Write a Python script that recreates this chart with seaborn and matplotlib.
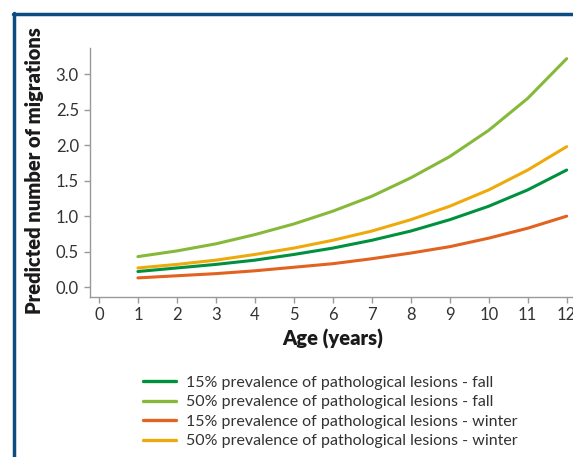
import numpy as np
import pandas as pd
import matplotlib.pyplot as plt
import seaborn as sns
from matplotlib.lines import Line2D

# values at each year of age
ages = [1, 2, 3, 4, 5, 6, 7, 8, 9, 10, 11, 12]
fall_15 = [0.22, 0.27, 0.32, 0.38, 0.46, 0.55, 0.66, 0.79, 0.95, 1.14, 1.37, 1.65]
fall_50 = [0.43, 0.51, 0.61, 0.74, 0.89, 1.07, 1.28, 1.54, 1.84, 2.21, 2.66, 3.22]
winter_15 = [0.13, 0.16, 0.19, 0.23, 0.28, 0.33, 0.40, 0.48, 0.57, 0.69, 0.83, 1.00]
winter_50 = [0.27, 0.32, 0.38, 0.46, 0.55, 0.66, 0.79, 0.95, 1.14, 1.37, 1.65, 1.98]

labels = ['15% prevalence of pathological lesions - fall',
          '50% prevalence of pathological lesions - fall',
          '15% prevalence of pathological lesions - winter',
          '50% prevalence of pathological lesions - winter']
colors = ['#00913f', '#86b93a', '#e2621f', '#eeaa0c']

df = pd.concat([
    pd.DataFrame({'age': ages, 'migrations': vals, 'group': lab})
    for vals, lab in zip([fall_15, fall_50, winter_15, winter_50], labels)
])

sns.set_style('white')
plt.rcParams['font.family'] = ['Lato', 'DejaVu Sans']

fig = plt.figure(figsize=(5.73, 4.57), dpi=100)
ax = fig.add_axes([0.157, 0.35, 0.866, 0.545])

sns.lineplot(data=df, x='age', y='migrations', hue='group', hue_order=labels,
             palette=colors, linewidth=2.2, legend=False, ax=ax)

ax.set_xlim(-0.23, 12.5)
ax.set_ylim(-0.14, 3.37)
ax.set_xticks(range(0, 13))
ax.set_yticks([0, 0.5, 1.0, 1.5, 2.0, 2.5, 3.0],
              labels=['0.0', '0.5', '1.0', '1.5', '2.0', '2.5', '3.0'])
ax.tick_params(axis='both', which='both', direction='out', length=4, width=1,
               color='#999999', labelsize=12, labelcolor='#333333', pad=4,
               bottom=True, left=True)
ax.tick_params(axis='x', pad=3)

for s in ['top', 'right']:
    ax.spines[s].set_visible(False)
for s in ['left', 'bottom']:
    ax.spines[s].set_color('#999999')
    ax.spines[s].set_linewidth(1)

ax.set_xlabel('Age (years)', fontsize=14.5, fontweight='heavy', color='#1a1a1a')
ax.xaxis.set_label_coords(0.49, -0.13)
ax.set_ylabel('Predicted number of migrations', fontsize=14.5, fontweight='heavy',
              color='#1a1a1a')
ax.yaxis.set_label_coords(-0.093, 0.506)

handles = [Line2D([], [], color=c, linewidth=2.4) for c in colors]
fig.legend(handles, labels, loc='upper left', bbox_to_anchor=(0.25, 0.178),
           frameon=False, fontsize=11.5, handlelength=2.05, handletextpad=0.6,
           labelspacing=0.33, borderaxespad=0, borderpad=0, labelcolor='#333333')

# dark blue frame around the panel
frame = '#0b4c82'
fig.add_artist(Line2D([13 / 573, 1.01], [1 - 14 / 457, 1 - 14 / 457],
                      color=frame, linewidth=2.5, transform=fig.transFigure))
fig.add_artist(Line2D([14 / 573, 14 / 573], [1 - 13 / 457, -0.01],
                      color=frame, linewidth=2.5, transform=fig.transFigure))

fig.savefig('out.png', dpi=100)
